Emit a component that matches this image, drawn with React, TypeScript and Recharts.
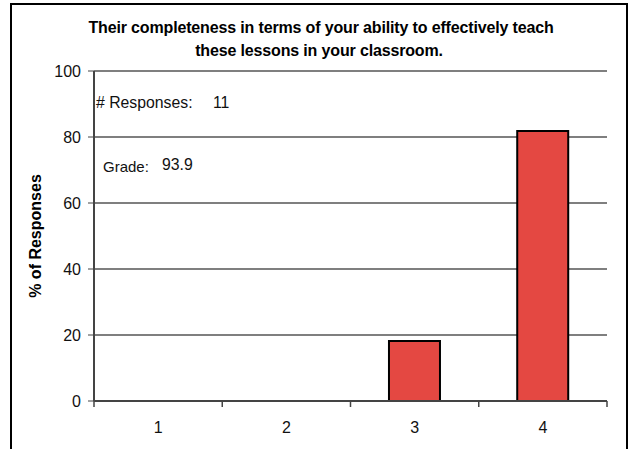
import React from "react";
import { BarChart, Bar, XAxis, YAxis, CartesianGrid } from "recharts";

const categories = ["1", "2", "3", "4"];
const percentages = [0, 0, 18.18, 81.82];
const yTicks = [0, 20, 40, 60, 80, 100];
const titleLines = [
  "Their completeness in terms of your ability to effectively teach",
  "these lessons in your classroom.",
];
const yLabel = "% of Responses";
const responsesLabel = "# Responses:";
const responsesValue = "11";
const gradeLabel = "Grade:";
const gradeValue = "93.9";

const data = categories.map((c, i) => ({ name: c, pct: percentages[i] }));

const FONT = "'Liberation Sans', Arial, sans-serif";

const XTick = (props: any) => {
  const { x, y, payload, index, visibleTicksCount } = props;
  const off = payload.offset ?? 0;
  const left = payload.coordinate - off;
  const right = payload.coordinate + off;
  return (
    <g>
      <line x1={left} y1={y} x2={left} y2={y + 6} stroke="#444" strokeWidth={1.5} />
      {index === visibleTicksCount - 1 && (
        <line x1={right} y1={y} x2={right} y2={y + 6} stroke="#444" strokeWidth={1.5} />
      )}
      <text x={x} y={y + 32} textAnchor="middle" fontSize={16} fontFamily={FONT} fill="#111">
        {payload.value}
      </text>
    </g>
  );
};

export default function App() {
  return (
    <div style={{ position: "absolute", left: 0, top: 0, width: 629, height: 449, background: "#fff", overflow: "hidden" }}>
      <div
        style={{
          position: "absolute",
          left: 10,
          top: 3,
          width: 614,
          height: 460,
          borderLeft: "2px solid #000",
          borderTop: "2px solid #000",
          borderRight: "2px solid #000",
        }}
      />
      <div style={{ position: "absolute", left: 0, top: 0 }}>
        <BarChart
          width={629}
          height={449}
          data={data}
          margin={{ top: 71, right: 22, bottom: 0, left: 30 }}
          barCategoryGap="30%"
        >
          <CartesianGrid vertical={false} stroke="#7f7f7f" strokeWidth={2} />
          <XAxis
            dataKey="name"
            height={48}
            tickLine={false}
            tickSize={0}
            tickMargin={0}
            axisLine={{ stroke: "#444", strokeWidth: 2 }}
            tick={<XTick />}
            interval={0}
          />
          <YAxis
            domain={[0, 100]}
            ticks={yTicks}
            width={64}
            tickSize={6}
            tickMargin={7}
            tickLine={{ stroke: "#444" }}
            axisLine={{ stroke: "#444", strokeWidth: 2 }}
            tick={{ fontSize: 16, fontFamily: FONT, fill: "#111" }}
            label={{
              value: yLabel,
              angle: -90,
              position: "insideLeft",
              offset: 5,
              style: { fontSize: 16, fontWeight: "bold", fontFamily: FONT, fill: "#000", textAnchor: "middle" },
            }}
          />
          <YAxis
            yAxisId="right"
            orientation="right"
            width={0}
            tick={false}
            tickLine={false}
            axisLine={{ stroke: "#a0a0a0", strokeWidth: 2 }}
          />
          <Bar dataKey="pct" fill="#E44842" stroke="#000" strokeWidth={2} isAnimationActive={false} />
        </BarChart>
      </div>
      <svg width={629} height={449} style={{ position: "absolute", left: 0, top: 0, pointerEvents: "none" }}>
        <text x={321} y={33} textAnchor="middle" fontSize={16} fontWeight="bold" fontFamily={FONT} letterSpacing={-0.15} fill="#000">
          {titleLines[0]}
        </text>
        <text x={319} y={56} textAnchor="middle" fontSize={16} fontWeight="bold" fontFamily={FONT} letterSpacing={-0.15} fill="#000">
          {titleLines[1]}
        </text>
        <text x={96} y={108} fontSize={15.8} fontFamily={FONT} fill="#111">{responsesLabel}</text>
        <text x={213} y={108} fontSize={15.8} fontFamily={FONT} fill="#111">{responsesValue}</text>
        <text x={103} y={172} fontSize={15} fontFamily={FONT} fill="#111">{gradeLabel}</text>
        <text x={162} y={170} fontSize={15.8} fontFamily={FONT} fill="#111">{gradeValue}</text>
      </svg>
    </div>
  );
}
